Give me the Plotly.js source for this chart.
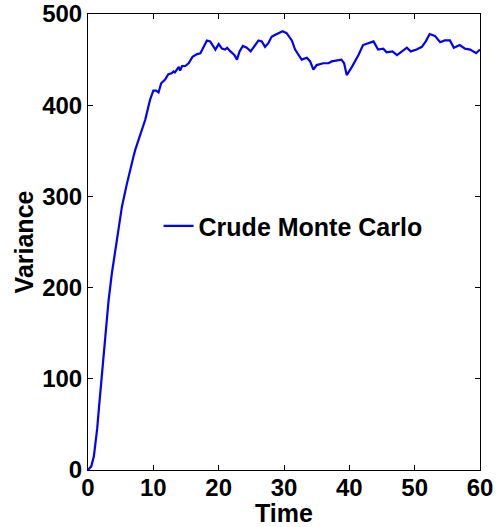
<!DOCTYPE html>
<html>
<head>
<meta charset="utf-8">
<script src="https://cdn.plot.ly/plotly-3.0.1.min.js"></script>
<style>html,body{margin:0;padding:0;background:#fff;}#chart{width:501px;height:527px;}</style>
</head>
<body>
<div id="chart"></div>
<script>
const seriesName = "Crude Monte Carlo";
const time = [0,0.5,0.9,1.4,1.7,2.05,2.65,3.15,3.66,4.43,5.2,5.96,6.2,6.97,7.23,8.0,8.76,9.5,10.0,10.4,10.8,11.2,11.8,12.3,12.8,13.1,13.3,13.9,14.1,14.4,14.9,15.4,16.0,16.7,17.2,17.5,18.2,18.7,19.1,19.5,20.0,20.5,21.0,21.3,21.8,22.4,22.8,23.2,23.7,24.3,24.9,25.6,26.1,26.6,27.1,27.6,28.1,28.6,29.1,29.8,30.4,31.2,31.7,32.2,32.7,33.5,34.0,34.5,35.0,36.0,36.8,37.3,38.1,38.8,39.2,39.6,40.4,41.4,42.1,42.9,43.7,44.4,45.2,45.7,46.6,47.3,48.0,48.8,49.4,50.3,51.1,51.7,52.3,53.1,53.9,54.6,55.4,56.0,56.9,57.7,58.5,59.4,60];
const variance = [0,4,15,45,70,100,150,186,216,252,289,314,322,344,351,369,384,406,416,416,414,424,428,434,435,437,436,442,438,443,443,446,453,456,457,461,471,470,465,461,467,462,461,463,459,455,450,459,465,463,459,466,471,470,464,468,475,477,479,481,479,471,461,455,450,452,448,439,444,446,446,448,449,450,446,433,442,455,466,468,470,461,462,458,459,455,459,463,459,461,464,470,478,476,469,471,471,463,466,462,461,457,461];
const xTicks = [0,10,20,30,40,50,60];
const yTicks = [0,100,200,300,400,500];

const tickFont = {family: "Liberation Sans, Arial, sans-serif", size: 24, color: "#000", weight: "bold"};
const labelFont = {family: "Liberation Sans, Arial, sans-serif", size: 25, color: "#000", weight: "bold"};

const trace = {
  x: time, y: variance, type: "scatter", mode: "lines", name: seriesName,
  line: {color: "#0000ff", width: 2.2}
};

const axisCommon = {
  showgrid: false, zeroline: false, showline: true, linecolor: "#000", linewidth: 1,
  mirror: "ticks", ticks: "inside", ticklen: 5, tickwidth: 1, tickcolor: "#000",
  tickfont: tickFont, automargin: false
};

const layout = {
  width: 501, height: 527,
  margin: {l: 88, r: 21, t: 14, b: 57},
  paper_bgcolor: "#fff", plot_bgcolor: "#fff",
  font: tickFont,
  showlegend: true,
  legend: {x: 0.18, y: 0.535, xanchor: "left", yanchor: "middle", bgcolor: "rgba(0,0,0,0)", borderwidth: 0, font: labelFont, itemwidth: 30},
  xaxis: Object.assign({}, axisCommon, {range: [0, 60], tickvals: xTicks, ticktext: xTicks.map(String),
    ticklabelstandoff: -4,
    title: {text: "Time", font: labelFont, standoff: 0}}),
  yaxis: Object.assign({}, axisCommon, {range: [0, 500], tickvals: yTicks, ticktext: yTicks.map(String),
    title: {text: "Variance", font: labelFont, standoff: 1}})
};

Plotly.newPlot("chart", [trace], layout, {displayModeBar: false, staticPlot: true});
</script>
</body>
</html>
